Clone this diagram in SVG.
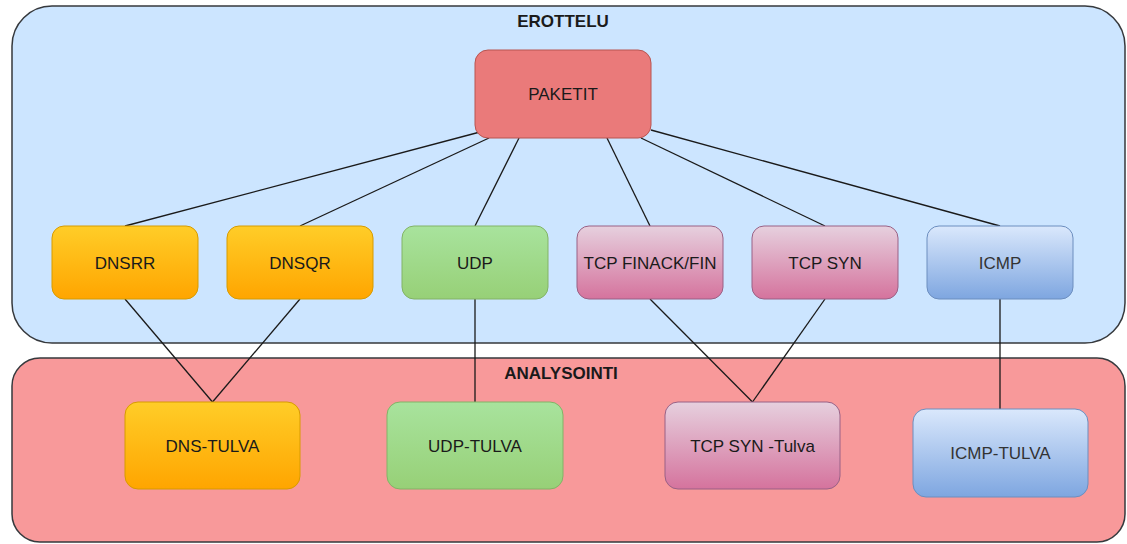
<svg xmlns="http://www.w3.org/2000/svg" width="1127" height="544" viewBox="0 0 1127 544">
<defs>
<linearGradient id="gOrange" x1="0" y1="0" x2="0" y2="1"><stop offset="0" stop-color="#ffcd28"/><stop offset="1" stop-color="#ffa500"/></linearGradient>
<linearGradient id="gGreen" x1="0" y1="0" x2="0" y2="1"><stop offset="0" stop-color="#a8e39d"/><stop offset="1" stop-color="#97d077"/></linearGradient>
<linearGradient id="gPink" x1="0" y1="0" x2="0" y2="1"><stop offset="0" stop-color="#e6d0de"/><stop offset="1" stop-color="#d5739d"/></linearGradient>
<linearGradient id="gBlue" x1="0" y1="0" x2="0" y2="1"><stop offset="0" stop-color="#dae8fc"/><stop offset="1" stop-color="#7ea6e0"/></linearGradient>
</defs>
<style>
text{font-family:"Liberation Sans",Arial,sans-serif;font-size:17px;fill:#1a1a1a;text-anchor:middle}
.title{font-weight:bold}
.cont{stroke:#36393d;stroke-width:1.5}
.node{stroke-width:1}
.orange{fill:url(#gOrange);stroke:#d79b00}
.green{fill:url(#gGreen);stroke:#82b366}
.pink{fill:url(#gPink);stroke:#996185}
.blue{fill:url(#gBlue);stroke:#6c8ebf}
.red{fill:#ea7a7a;stroke:#b85450}
.edge{stroke:#1a1a1a;stroke-width:1.3;fill:none}
</style>
<rect width="1127" height="544" fill="#ffffff"/>
<g id="erottelu">
<rect class="cont" x="12" y="6" width="1113" height="337" rx="40" fill="#cce5ff"/>
<text class="title" x="563" y="27">EROTTELU</text>
</g>
<g id="analysointi">
<rect class="cont" x="12" y="358" width="1113" height="184" rx="28" fill="#f8999a"/>
<text class="title" x="561" y="379">ANALYSOINTI</text>
</g>
<g id="connectors">
<line class="edge" x1="480" y1="132" x2="125" y2="226"/>
<line class="edge" x1="489" y1="138" x2="300" y2="226"/>
<line class="edge" x1="519" y1="138" x2="475" y2="226"/>
<line class="edge" x1="607" y1="138" x2="650" y2="226"/>
<line class="edge" x1="641" y1="138" x2="825" y2="226"/>
<line class="edge" x1="651" y1="130" x2="1000" y2="226"/>
<line class="edge" x1="125" y1="299" x2="212.5" y2="402"/>
<line class="edge" x1="300" y1="299" x2="212.5" y2="402"/>
<line class="edge" x1="475" y1="299" x2="475" y2="402"/>
<line class="edge" x1="650" y1="299" x2="752.5" y2="402"/>
<line class="edge" x1="825" y1="299" x2="752.5" y2="402"/>
<line class="edge" x1="1000" y1="299" x2="1000" y2="409"/>
</g>
<g id="paketit">
<rect class="node red" x="475" y="50" width="176" height="88" rx="13"/>
<text x="563" y="100">PAKETIT</text>
</g>
<g id="dnsrr">
<rect class="node orange" x="52" y="226" width="146" height="73" rx="12"/>
<text x="125" y="269">DNSRR</text>
</g>
<g id="dnsqr">
<rect class="node orange" x="227" y="226" width="146" height="73" rx="12"/>
<text x="300" y="269">DNSQR</text>
</g>
<g id="udp">
<rect class="node green" x="402" y="226" width="146" height="73" rx="12"/>
<text x="475" y="269">UDP</text>
</g>
<g id="tcpfinack">
<rect class="node pink" x="577" y="226" width="146" height="73" rx="12"/>
<text x="650" y="269">TCP FINACK/FIN</text>
</g>
<g id="tcpsyn">
<rect class="node pink" x="752" y="226" width="146" height="73" rx="12"/>
<text x="825" y="269">TCP SYN</text>
</g>
<g id="icmp">
<rect class="node blue" x="927" y="226" width="146" height="73" rx="12"/>
<text x="1000" y="269" fill="#333333" style="fill:#333333">ICMP</text>
</g>
<g id="dnstulva">
<rect class="node orange" x="125" y="402" width="175" height="87" rx="13"/>
<text x="212.5" y="452">DNS-TULVA</text>
</g>
<g id="udptulva">
<rect class="node green" x="387" y="402" width="176" height="87" rx="13"/>
<text x="475" y="452">UDP-TULVA</text>
</g>
<g id="tcpsyntulva">
<rect class="node pink" x="665" y="402" width="175" height="87" rx="13"/>
<text x="752.5" y="452">TCP SYN -Tulva</text>
</g>
<g id="icmptulva">
<rect class="node blue" x="913" y="409" width="175" height="88" rx="13"/>
<text x="1000.5" y="459" style="fill:#333333">ICMP-TULVA</text>
</g>
</svg>
